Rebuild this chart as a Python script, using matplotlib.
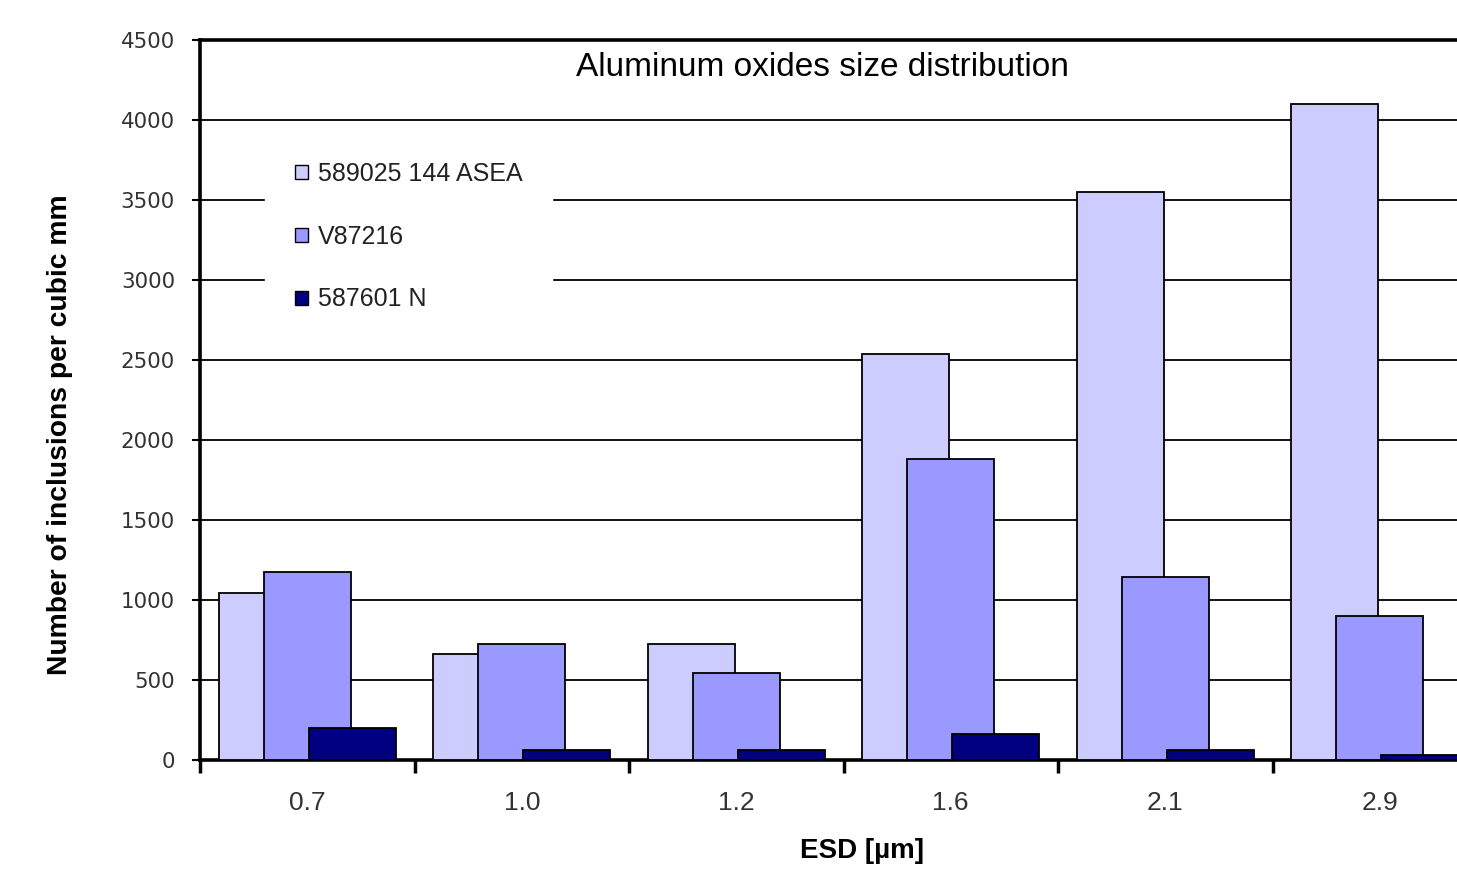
import matplotlib
matplotlib.use("Agg")
import matplotlib.pyplot as plt
import numpy as np
from matplotlib.patches import Patch

# ESD size classes and inclusion densities per heat
categories = ["0.7", "1.0", "1.2", "1.6", "2.1", "2.9"]
series_names = ["589025 144 ASEA", "V87216", "587601 N"]
asea = [1046, 660, 725, 2536, 3550, 4100]
v87216 = [1177, 727, 544, 1879, 1144, 898]
n587601 = [198, 62, 60, 165, 65, 29]
colors = ["#CCCCFF", "#9999FF", "#000080"]
y_ticks = list(range(0, 4501, 500))

W, H, DPI = 1457, 874, 100
fig = plt.figure(figsize=(W / DPI, H / DPI), dpi=DPI)

# axes spans six categories; right part runs past the canvas edge
left_px, right_px, top_px, bottom_px = 200, 1487, 40, 760
ax = fig.add_axes([left_px / W, 1 - bottom_px / H,
                   (right_px - left_px) / W, (bottom_px - top_px) / H])

x = np.arange(len(categories))
bw = 0.406
offsets = [-0.21, 0.0, 0.21]
for vals, off, c, name in zip([asea, v87216, n587601], offsets, colors, series_names):
    ax.bar(x + off, vals, width=bw, color=c, edgecolor="black",
           linewidth=1.3, label=name, zorder=3, clip_on=False)

ax.set_xlim(-0.5, len(categories) - 0.5)
ax.set_ylim(0, 4500)

# horizontal gridlines
ax.set_yticks(y_ticks)
ax.yaxis.grid(True, color="black", linewidth=1.3, zorder=0)
ax.set_axisbelow(True)

for s in ["left", "bottom", "top"]:
    ax.spines[s].set_linewidth(2.6)
    ax.spines[s].set_color("black")
ax.spines["right"].set_visible(False)

ax.set_yticklabels([str(v) for v in y_ticks], family="DejaVu Sans",
                   size=15.4, color="#333333")
ax.tick_params(axis="y", direction="out", length=6, width=1.5, pad=12)

ax.set_xticks(x)
ax.set_xticklabels(categories, family="Liberation Sans", size=19,
                   color="#333333")
ax.set_xticks(np.arange(len(categories) + 1) - 0.5, minor=True)
ax.tick_params(axis="x", which="major", length=0, pad=22)
ax.tick_params(axis="x", which="minor", direction="out", length=9, width=2.5)

fig.text(822 / W, 1 - 68 / H, "Aluminum oxides size distribution",
         family="Liberation Sans", fontsize=24, ha="center", va="center")
fig.text(862 / W, 1 - 851 / H, "ESD [µm]", family="Liberation Sans",
         fontweight="bold", fontsize=20, ha="center", va="center")
fig.text(60 / W, 1 - 435 / H, "Number of inclusions per cubic mm",
         family="Liberation Sans", fontweight="bold", fontsize=20.3,
         rotation=90, ha="center", va="center")

handles = [Patch(facecolor=c, edgecolor="black", linewidth=1.0) for c in colors]
leg = ax.legend(handles, series_names, loc="upper left",
                bbox_to_anchor=(265 / W, 1 - 132 / H),
                bbox_transform=fig.transFigure, borderaxespad=0,
                prop=dict(family="Liberation Sans", size=18),
                frameon=True, fancybox=False, facecolor="white",
                edgecolor="white", framealpha=1.0, borderpad=1.2,
                handlelength=0.5, handleheight=0.5, handletextpad=0.4,
                labelspacing=1.55)
for t in leg.get_texts():
    t.set_color("#222222")
leg.set_zorder(2)

fig.savefig("out.png", dpi=DPI)
